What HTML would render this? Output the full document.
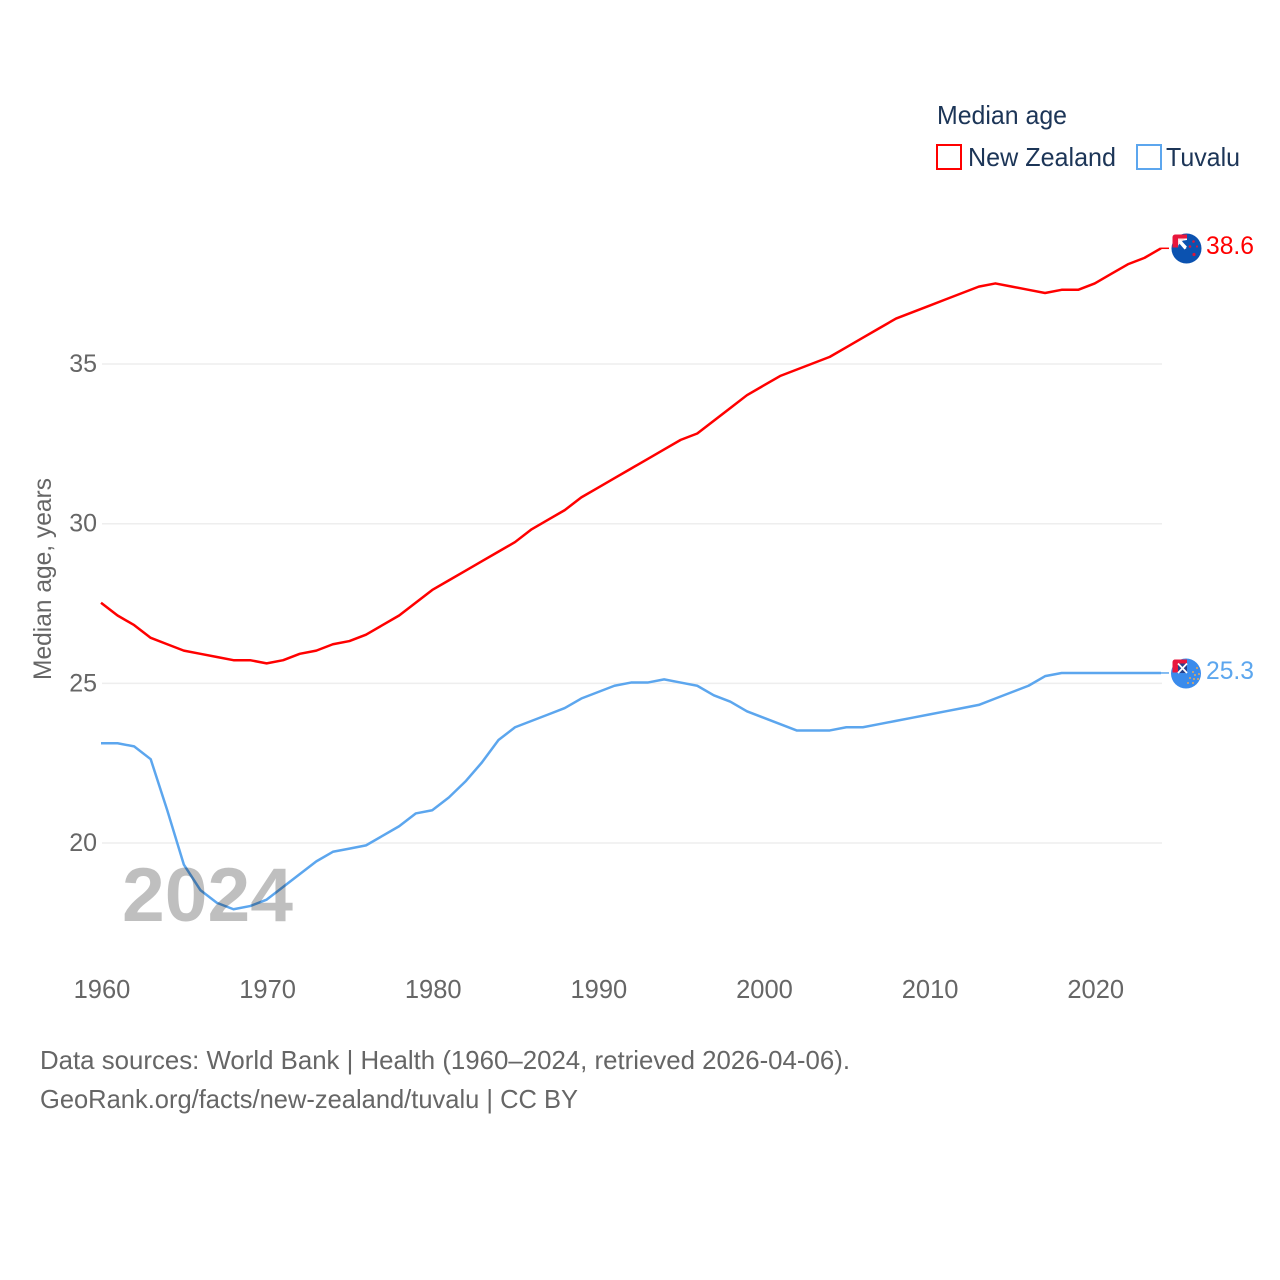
<!DOCTYPE html>
<html lang="en">
<head>
<meta charset="utf-8">
<title>Median age: New Zealand and Tuvalu</title>
<style>
html,body{margin:0;padding:0;background:#fff}
svg{display:block}
text{font-family:"Liberation Sans",sans-serif}
</style>
</head>
<body>
<svg id="chart" xmlns="http://www.w3.org/2000/svg" width="1280" height="1280" viewBox="0 0 1280 1280">
  <rect width="1280" height="1280" fill="#fff"/>
  <g id="grid"></g>
  <g id="yticks"></g>
  <g id="xticks"></g>
  <text transform="translate(51 680) rotate(-90)" font-size="25" fill="#666" textLength="202" lengthAdjust="spacingAndGlyphs">Median age, years</text>

  <g id="series"></g>

  <text x="122" y="921" font-size="76" font-weight="700" fill="#000" fill-opacity="0.25" textLength="171" lengthAdjust="spacingAndGlyphs">2024</text>

  <g>
    <text x="937" y="124" font-size="26" fill="#1c3557" textLength="130" lengthAdjust="spacingAndGlyphs">Median age</text>
    <rect x="937" y="145" width="24" height="24" fill="none" stroke="#ff0000" stroke-width="2"/>
    <text x="968" y="166" font-size="26" fill="#1c3557" textLength="148" lengthAdjust="spacingAndGlyphs">New Zealand</text>
    <rect x="1137" y="145" width="24" height="24" fill="none" stroke="#5ca6ee" stroke-width="2"/>
    <text x="1166" y="166" font-size="26" fill="#1c3557" textLength="74" lengthAdjust="spacingAndGlyphs">Tuvalu</text>
  </g>

  <g>
    <circle cx="1186.5" cy="248.5" r="15" fill="#0b52b0"/>
    <path d="M1175 234.500h12v4h-9v9l-5.500 0v-10.500a3 3 0 0 1 2.500-2.500z" fill="#e8173c"/>
    <path d="M1178 238.500h9v1.500l-6.500 1 6 7-2 1.500-6-7-0.500 5h-0z" fill="#fff"/>
    <path d="M1178 238.500h7l-7 7z" fill="#f4dfe4"/>
    <path d="M1179.500 240.500l6.500 7" stroke="#fff" stroke-width="2.500"/>
    <circle cx="1193.5" cy="241.500" r="1.300" fill="#d8173c"/>
    <circle cx="1190" cy="246.500" r="1.300" fill="#d8173c"/>
    <circle cx="1197" cy="246.500" r="1.100" fill="#d8173c"/>
    <circle cx="1194" cy="254.500" r="1.600" fill="#d8173c"/>
  </g>
  <g>
    <circle cx="1186" cy="673.500" r="15" fill="#3a8bec"/>
    <path d="M1174.500 659.500h12.500v4h-9v9l-5.500 0v-10.500a3 3 0 0 1 2-2.500z" fill="#e8173c"/>
    <path d="M1178 663.500h9v9.500h-9z" fill="#27408b"/>
    <path d="M1178 663.500l9 9.500M1187 663.500l-9 9.500" stroke="#fff" stroke-width="1.800"/>
    <g fill="#e0a860">
      <circle cx="1197" cy="668" r="1"/><circle cx="1193" cy="672" r="1"/><circle cx="1199" cy="674" r="1"/>
      <circle cx="1195" cy="675" r="1"/><circle cx="1190" cy="678" r="1"/><circle cx="1194" cy="679" r="1"/>
      <circle cx="1198" cy="679" r="1"/><circle cx="1188" cy="683" r="1"/><circle cx="1193" cy="683" r="1"/>
    </g>
  </g>

  <text x="1206" y="254" font-size="25" fill="#ff0000" textLength="48" lengthAdjust="spacingAndGlyphs">38.6</text>
  <text x="1206" y="679" font-size="25" fill="#5ca6ee" textLength="48" lengthAdjust="spacingAndGlyphs">25.3</text>

  <text x="40" y="1069" font-size="26" fill="#666" textLength="810" lengthAdjust="spacingAndGlyphs">Data sources: World Bank | Health (1960–2024, retrieved 2026-04-06).</text>
  <text x="40" y="1108" font-size="26" fill="#666" textLength="538" lengthAdjust="spacingAndGlyphs">GeoRank.org/facts/new-zealand/tuvalu | CC BY</text>
</svg>
<script>
const startYear = 1960;
const yTickValues = [20, 25, 30, 35];
const xTickYears = [1960, 1970, 1980, 1990, 2000, 2010, 2020];
const newZealand = [
  27.5, 27.1, 26.8, 26.4, 26.2, 26.0, 25.9, 25.8, 25.7, 25.7,
  25.6, 25.7, 25.9, 26.0, 26.2, 26.3, 26.5, 26.8, 27.1, 27.5,
  27.9, 28.2, 28.5, 28.8, 29.1, 29.4, 29.8, 30.1, 30.4, 30.8,
  31.1, 31.4, 31.7, 32.0, 32.3, 32.6, 32.8, 33.2, 33.6, 34.0,
  34.3, 34.6, 34.8, 35.0, 35.2, 35.5, 35.8, 36.1, 36.4, 36.6,
  36.8, 37.0, 37.2, 37.4, 37.5, 37.4, 37.3, 37.2, 37.3, 37.3,
  37.5, 37.8, 38.1, 38.3, 38.6
];
const tuvalu = [
  23.1, 23.1, 23.0, 22.6, 21.0, 19.3, 18.5, 18.1, 17.9, 18.0,
  18.2, 18.6, 19.0, 19.4, 19.7, 19.8, 19.9, 20.2, 20.5, 20.9,
  21.0, 21.4, 21.9, 22.5, 23.2, 23.6, 23.8, 24.0, 24.2, 24.5,
  24.7, 24.9, 25.0, 25.0, 25.1, 25.0, 24.9, 24.6, 24.4, 24.1,
  23.9, 23.7, 23.5, 23.5, 23.5, 23.6, 23.6, 23.7, 23.8, 23.9,
  24.0, 24.1, 24.2, 24.3, 24.5, 24.7, 24.9, 25.2, 25.3, 25.3,
  25.3, 25.3, 25.3, 25.3, 25.3
];

const NS = 'http://www.w3.org/2000/svg';
const plotLeft = 102;
const plotRight = 1162;
const xScale = function (year) { return plotLeft + (year - 1960) * (plotRight - plotLeft) / 64; };
const yScale = function (value) { return 843 - (value - 20) * 31.93; };
const lineX = function (year) { return xScale(year) - 1; };
const lineY = function (value) { return yScale(value) - 0.8; };

const gridGroup = document.getElementById('grid');
const yTickGroup = document.getElementById('yticks');
const xTickGroup = document.getElementById('xticks');
const seriesGroup = document.getElementById('series');

yTickValues.forEach(function (value) {
  const line = document.createElementNS(NS, 'line');
  
  
  line.setAttribute('x1', plotLeft);
  line.setAttribute('x2', plotRight);
  line.setAttribute('y1', yScale(value));
  line.setAttribute('y2', yScale(value));
  line.setAttribute('stroke', '#eeeeee');
  line.setAttribute('stroke-width', '1.5');
  gridGroup.appendChild(line);

  const label = document.createElementNS(NS, 'text');
  
  
  label.setAttribute('x', 97);
  label.setAttribute('y', yScale(value) + 8);
  label.setAttribute('text-anchor', 'end');
  label.setAttribute('font-size', '25');
  label.setAttribute('fill', '#666');
  label.textContent = String(value);
  yTickGroup.appendChild(label);
});

xTickYears.forEach(function (year) {
  const label = document.createElementNS(NS, 'text');
  
  
  label.setAttribute('x', xScale(year));
  label.setAttribute('y', 998);
  label.setAttribute('text-anchor', 'middle');
  label.setAttribute('font-size', '25.5');
  label.setAttribute('fill', '#666');
  label.textContent = String(year);
  xTickGroup.appendChild(label);
});

function buildPath(values) {
  return values.map(function (value, index) {
    return (index === 0 ? 'M' : 'L') + lineX(startYear + index).toFixed(2) + ' ' + lineY(value).toFixed(2);
  }).join(' ');
}

const nzLine = document.createElementNS(NS, 'path');


nzLine.setAttribute('d', buildPath(newZealand));
nzLine.setAttribute('fill', 'none');
nzLine.setAttribute('stroke', '#ff0000');
nzLine.setAttribute('stroke-width', '2.5');
nzLine.setAttribute('stroke-linejoin', 'round');
seriesGroup.appendChild(nzLine);

const tvLine = document.createElementNS(NS, 'path');


tvLine.setAttribute('d', buildPath(tuvalu));
tvLine.setAttribute('fill', 'none');
tvLine.setAttribute('stroke', '#5ca6ee');
tvLine.setAttribute('stroke-width', '2.5');
tvLine.setAttribute('stroke-linejoin', 'round');
seriesGroup.appendChild(tvLine);

const nzConnector = document.createElementNS(NS, 'line');


nzConnector.setAttribute('x1', plotRight - 1);
nzConnector.setAttribute('x2', 1169);
nzConnector.setAttribute('y1', lineY(newZealand[newZealand.length - 1]));
nzConnector.setAttribute('y2', lineY(newZealand[newZealand.length - 1]));
nzConnector.setAttribute('stroke', '#ff0000');
nzConnector.setAttribute('stroke-width', '1.5');
seriesGroup.appendChild(nzConnector);

const tvConnector = document.createElementNS(NS, 'line');


tvConnector.setAttribute('x1', plotRight - 1);
tvConnector.setAttribute('x2', 1169);
tvConnector.setAttribute('y1', lineY(tuvalu[tuvalu.length - 1]));
tvConnector.setAttribute('y2', lineY(tuvalu[tuvalu.length - 1]));
tvConnector.setAttribute('stroke', '#5ca6ee');
tvConnector.setAttribute('stroke-width', '1.5');
seriesGroup.appendChild(tvConnector);
</script>
</body>
</html>
